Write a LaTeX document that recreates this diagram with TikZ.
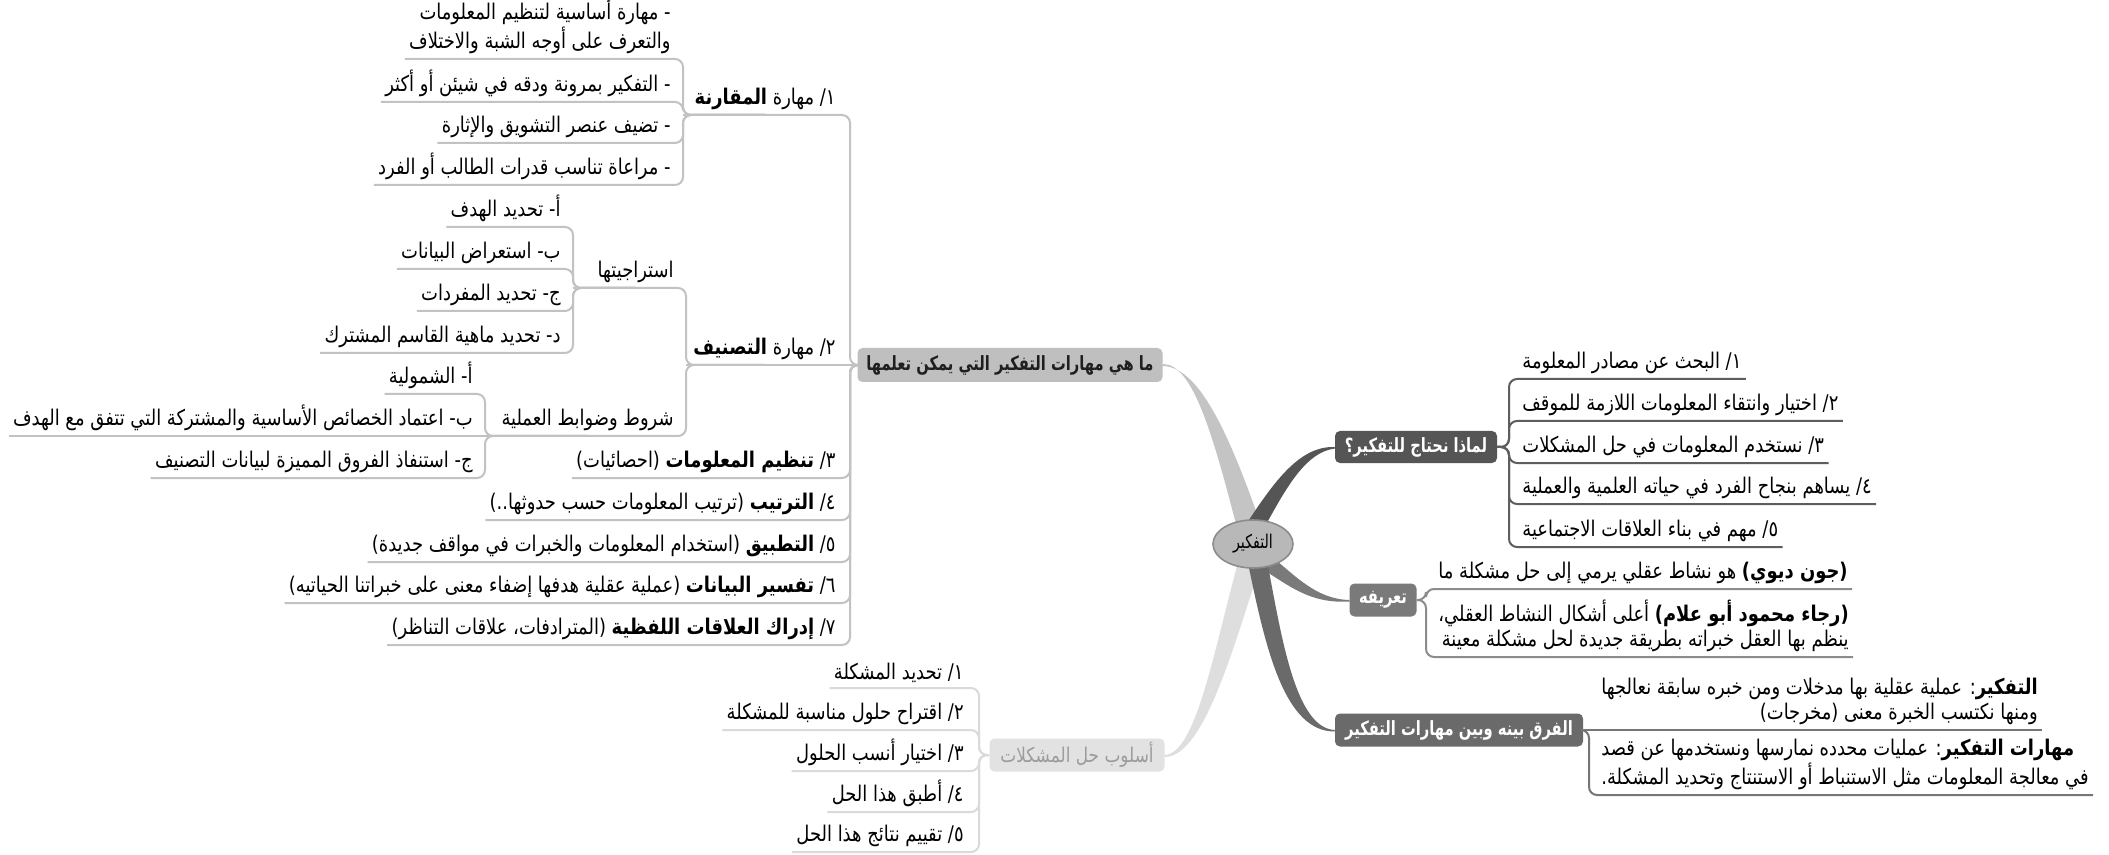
\documentclass[tikz,border=0pt]{standalone}
\usepackage{fontspec}
\usetikzlibrary{shapes.geometric}
\newfontfamily\ar[Script=Arabic, FakeStretch=0.83]{DejaVu Sans}
\newfontfamily\arb[Script=Arabic, FakeStretch=0.75]{DejaVu Sans}
\TeXXeTstate=1
\newcommand\RL[1]{\beginR #1\endR}
\definecolor{lineA}{HTML}{C2C2C2}
\definecolor{lineB}{HTML}{5E5E5E}
\definecolor{lineC}{HTML}{8C8C8C}
\definecolor{lineD}{HTML}{767676}
\definecolor{lineE}{HTML}{DADADA}
\definecolor{boxA}{HTML}{BFBFBF}
\definecolor{boxB}{HTML}{555555}
\definecolor{boxC}{HTML}{7A7A7A}
\definecolor{boxD}{HTML}{6A6A6A}
\definecolor{boxE}{HTML}{E2E2E2}
\definecolor{txtE}{HTML}{9C9C9C}
\definecolor{brA}{HTML}{C4C4C4}
\definecolor{brE}{HTML}{DEDEDE}
\definecolor{ctr}{HTML}{B8B8B8}
\tikzset{
 base/.style={font=\ar\fontsize{10.8}{12.5}\selectfont, text=black, inner xsep=2pt, inner ysep=2.5pt},
 lt/.style={base, anchor=south east, align=right},
 rt/.style={base, anchor=south west, align=right},
 rtl/.style={base, anchor=south west, align=left},
 topic/.style={rounded corners=2.5pt, inner sep=0pt, minimum height=16.5pt, font=\arb\bfseries\fontsize{9.8}{12}\selectfont},
 cA/.style={draw=lineA, line width=1pt, rounded corners=4pt},
 cB/.style={draw=lineB, line width=1pt, rounded corners=4pt},
 cC/.style={draw=lineC, line width=1pt, rounded corners=4pt},
 cD/.style={draw=lineD, line width=1pt, rounded corners=4pt},
 cE/.style={draw=lineE, line width=1pt, rounded corners=4pt},
}
\begin{document}
\begin{tikzpicture}[x=0.5pt,y=-0.5pt]
\fill[white] (0,0) rectangle (2109,855);
\useasboundingbox (0,0) rectangle (2109,855);

% main topics
\node[topic, fill=boxA, text=black!88, minimum width=152.5pt, minimum height=17pt] (mahi) at (1010,365) {\RL{ما هي مهارات التفكير التي يمكن تعلمها}};
\node[topic, fill=boxB, text=white, minimum width=81pt, minimum height=16pt] (why) at (1416,447) {\RL{لماذا نحتاج للتفكير؟}};
\node[topic, fill=boxC, text=white, minimum width=33.5pt] (def) at (1383,600) {\RL{تعريفه}};
\node[topic, fill=boxD, text=white, minimum width=124pt] (diff) at (1459,730) {\RL{الفرق بينه وبين مهارات التفكير}};
\node[topic, fill=boxE, text=txtE, minimum width=87.5pt, font=\ar\fontsize{10.2}{12}\selectfont] (prob) at (1077,755) {\RL{أسلوب حل المشكلات}};

% tapered branches
\fill[brA] (mahi.east) ++(0,-1) .. controls (1192,364) and (1212,430) .. (1238,532) -- (1262,528) .. controls (1228,430) and (1198,366) .. (1162,366) -- cycle;
\fill[brE] (1238,562) .. controls (1212,660) and (1195,753) .. (prob.east) -- (1165,757) .. controls (1202,756) and (1230,660) .. (1260,566) -- cycle;
\fill[boxB] (1245,526) .. controls (1275,480) and (1300,446) .. (why.west) -- (1335,448.5) .. controls (1305,452) and (1285,490) .. (1263,530) -- cycle;
\fill[boxC] (1266,552) .. controls (1295,575) and (1315,599) .. (def.west) -- (1350,601.5) .. controls (1310,604) and (1290,586) .. (1262,569) -- cycle;
\fill[boxD] (1249,568) .. controls (1266,650) and (1285,732) .. (1335,731.5) -- (diff.west) .. controls (1296,728) and (1282,640) .. (1268,566) -- cycle;

\node[draw=black!45, fill=ctr, ellipse, minimum width=40pt, minimum height=24pt, inner sep=0pt, line width=0.8pt, font=\arb\fontsize{9.5}{12}\selectfont] (root) at (1253,544) {\RL{التفكير}};

% ---------- left: skills ----------
\coordinate (J0) at (850,365);
\coordinate (m1j) at (683,115);
\coordinate (m2j) at (686,365);
\coordinate (s1j) at (573,288);
\coordinate (s2j) at (485,436);

\node[lt] (m1) at (840,115) {\RL{١/ مهارة \textbf{المقارنة}}};
\node[lt] (m2) at (840,365) {\RL{٢/ مهارة \textbf{التصنيف}}};
\node[lt] (m3) at (840,478) {\RL{٣/ \textbf{تنظيم المعلومات} (احصائيات)}};
\node[lt] (m4) at (840,520) {\RL{٤/ \textbf{الترتيب} (ترتيب المعلومات حسب حدوثها..)}};
\node[lt] (m5) at (840,562) {\RL{٥/ \textbf{التطبيق} (استخدام المعلومات والخبرات في مواقف جديدة)}};
\node[lt] (m6) at (840,603) {\RL{٦/ \textbf{تفسير البيانات} (عملية عقلية هدفها إضفاء معنى على خبراتنا الحياتيه)}};
\node[lt] (m7) at (840,645) {\RL{٧/ \textbf{إدراك العلاقات اللفظية} (المترادفات، علاقات التناظر)}};

\node[lt] (a1) at (675,59) {\RL{- مهارة أساسية لتنظيم المعلومات}\\\RL{والتعرف على أوجه الشبة والاختلاف}};
\node[lt] (a2) at (675,102) {\RL{- التفكير بمرونة ودقه في شيئن أو أكثر}};
\node[lt] (a3) at (675,143) {\RL{- تضيف عنصر التشويق والإثارة}};
\node[lt] (a4) at (675,185) {\RL{- مراعاة تناسب قدرات الطالب أو الفرد}};

\node[lt] (s1) at (678,288) {\RL{استراجيتها}};
\node[lt] (s2) at (678,436) {\RL{شروط وضوابط العملية}};

\node[lt] (b1) at (565,227) {\RL{أ- تحديد الهدف}};
\node[lt] (b2) at (565,269) {\RL{ب- استعراض البيانات}};
\node[lt] (b3) at (565,311) {\RL{ج- تحديد المفردات}};
\node[lt] (b4) at (565,353) {\RL{د- تحديد ماهية القاسم المشترك}};

\node[lt] (c1) at (477,394) {\RL{أ- الشمولية}};
\node[lt] (c2) at (477,436) {\RL{ب- اعتماد الخصائص الأساسية والمشتركة التي تتفق مع الهدف}};
\node[lt] (c3) at (477,478) {\RL{ج- استنفاذ الفروق المميزة لبيانات التصنيف}};

\foreach \c in {m3,m4,m5,m6,m7} \draw[cA] (\c.south west) -| (J0) -- (mahi.west);
\draw[cA] (m1j) -| (J0) -- (mahi.west);
\draw[cA] (m2j) -- (J0) -- (mahi.west);
\foreach \c in {a1,a2,a3,a4} \draw[cA] (\c.south west) -| (m1j) -- (m1.south);
\draw[cA] (s1j) -| (m2j) -- (m2.south);
\draw[cA] (s2j) -| (m2j) -- (m2.south);
\foreach \c in {b1,b2,b3,b4} \draw[cA] (\c.south west) -| (s1j) -- (s1.south);
\foreach \c in {c1,c3} \draw[cA] (\c.south west) -| (s2j) -- (s2.south);
\draw[cA] (c2.south west) -- (s2j) -- (s2.south);

% ---------- bottom-left: problem solving ----------
\coordinate (Jp) at (979,755);
\node[lt] (p1) at (968,688) {\RL{١/ تحديد المشكلة}};
\node[lt] (p2) at (968,730) {\RL{٢/ اقتراح حلول مناسبة للمشكلة}};
\node[lt] (p3) at (968,771) {\RL{٣/ اختيار أنسب الحلول}};
\node[lt] (p4) at (968,812) {\RL{٤/ أطبق هذا الحل}};
\node[lt] (p5) at (968,852) {\RL{٥/ تقييم نتائج هذا الحل}};
\foreach \c in {p1,p2,p3,p4,p5} \draw[cE] (\c.south west) -| (Jp) -- (prob.west);

% ---------- right: why ----------
\coordinate (Jw) at (1509,447);
\node[rt] (w1) at (1518,379) {\RL{١/ البحث عن مصادر المعلومة}};
\node[rt] (w2) at (1518,421) {\RL{٢/ اختيار وانتقاء المعلومات اللازمة للموقف}};
\node[rt] (w3) at (1518,463) {\RL{٣/ نستخدم المعلومات في حل المشكلات}};
\node[rt] (w4) at (1518,504) {\RL{٤/ يساهم بنجاح الفرد في حياته العلمية والعملية}};
\node[rt] (w5) at (1518,547) {\RL{٥/ مهم في بناء العلاقات الاجتماعية}};
\foreach \c in {w1,w2,w3,w4,w5} \draw[cB] (\c.south east) -| (Jw) -- (why.east);

% ---------- right: definition ----------
\coordinate (Jd) at (1426,600);
\node[rt] (d1) at (1434,589) {\RL{\textbf{(جون ديوي)} هو نشاط عقلي يرمي إلى حل مشكلة ما}};
\node[rt] (d2) at (1434,657) {\RL{\textbf{(رجاء محمود أبو علام)} أعلى أشكال النشاط العقلي،}\\\RL{ينظم بها العقل خبراته بطريقة جديدة لحل مشكلة معينة}};
\foreach \c in {d1,d2} \draw[cC] (\c.south east) -| (Jd) -- (def.east);

% ---------- right: difference ----------
\coordinate (Jf) at (1589,730);
\node[rt] (f1) at (1597,730) {\RL{\textbf{التفكير}: عملية عقلية بها مدخلات ومن خبره سابقة نعالجها}\\\RL{ومنها نكتسب الخبرة معنى (مخرجات)}};
\node[rtl] (f2) at (1597,795) {\RL{\textbf{مهارات التفكير}: عمليات محدده نمارسها ونستخدمها عن قصد}\\\RL{في معالجة المعلومات مثل الاستنباط أو الاستنتاج وتحديد المشكلة.}};
\draw[cD] (f1.south east) -- (Jf) -- (diff.east);
\draw[cD] (f2.south east) -| (Jf) -- (diff.east);
\end{tikzpicture}
\end{document}
